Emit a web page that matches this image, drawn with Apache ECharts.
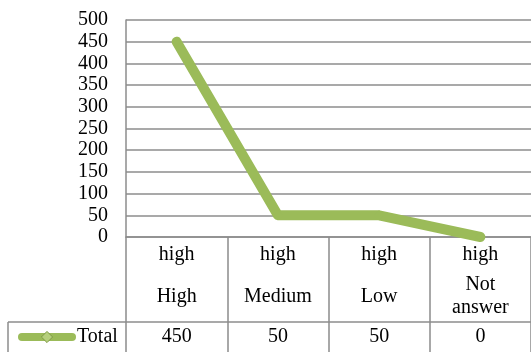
<!DOCTYPE html>
<html>
<head>
<meta charset="utf-8">
<script src="https://cdn.jsdelivr.net/npm/echarts@6/dist/echarts.min.js"></script>
<style>
html,body{margin:0;padding:0;background:#fff;}
#chart{width:531px;height:352px;}
</style>
</head>
<body>
<div id="chart"></div>
<script>
const groupLabels = ['high', 'high', 'high', 'high'];
const categories = ['High', 'Medium', 'Low', 'Not\nanswer'];
const totals = [450, 50, 50, 0];
const seriesName = 'Total';
const yMin = 0, yMax = 500, yStep = 50;

const FONT = "'Liberation Serif', 'Times New Roman', serif";
const FS = 20;
const GRAY = '#8c8c8c';
const GREEN = '#9bbb59';

const chart = echarts.init(document.getElementById('chart'));
chart.setOption({
  animation: false,
  backgroundColor: '#fff',
  grid: { left: 126, top: 20, width: 412, height: 217, containLabel: false },
  legend: {
    left: 18, top: 327, padding: 0,
    itemWidth: 50, itemHeight: 14, itemGap: 9,
    lineStyle: { width: 8, color: GREEN, cap: 'round' },
    itemStyle: { color: '#b5cf7c', borderColor: '#7e9a45', borderWidth: 1 },
    textStyle: { fontFamily: FONT, fontSize: FS, color: '#000' },
    data: [seriesName]
  },
  xAxis: [
    {
      type: 'category',
      data: categories,
      position: 'bottom',
      boundaryGap: true,
      axisLine: { show: true, lineStyle: { color: GRAY, width: 1.5 } },
      axisTick: { show: true, length: 120, lineStyle: { color: GRAY, width: 1.5 } },
      axisLabel: {
        margin: 0,
        interval: 0,
        formatter: function (v, i) {
          const parts = v.split('\n');
          let s = '{a|' + groupLabels[i] + '}\n';
          if (parts.length > 1) {
            s += parts.map(p => '{c|' + p + '}').join('\n');
          } else {
            s += '{b|' + v + '}';
          }
          return s;
        },
        rich: {
          a: { fontFamily: FONT, fontSize: FS, color: '#000', lineHeight: 36 },
          b: { fontFamily: FONT, fontSize: FS, color: '#000', lineHeight: 48 },
          c: { fontFamily: FONT, fontSize: FS, color: '#000', lineHeight: 23 }
        }
      }
    },
    {
      type: 'category',
      data: categories,
      position: 'bottom',
      offset: 85,
      boundaryGap: true,
      axisLine: { show: false },
      axisTick: { show: false },
      axisLabel: {
        margin: 5,
        interval: 0,
        fontFamily: FONT, fontSize: FS, color: '#000',
        formatter: function (v, i) { return String(totals[i]); }
      }
    }
  ],
  yAxis: {
    type: 'value',
    min: yMin, max: yMax, interval: yStep,
    axisLine: { show: true, lineStyle: { color: GRAY, width: 1.5 } },
    axisTick: { show: false },
    axisLabel: { margin: 18, fontFamily: FONT, fontSize: FS, color: '#000' },
    splitLine: { show: true, lineStyle: { color: GRAY, width: 1.5 } }
  },
  graphic: [
    { type: 'line', shape: { x1: 8, y1: 322, x2: 531, y2: 322 }, style: { stroke: GRAY, lineWidth: 1.5 }, z: 10 },
    { type: 'line', shape: { x1: 8, y1: 322, x2: 8, y2: 352 }, style: { stroke: GRAY, lineWidth: 1.5 }, z: 10 }
  ],
  series: [{
    name: seriesName,
    type: 'line',
    data: totals,
    symbol: 'diamond',
    symbolSize: 10,
    showAllSymbol: true,
    itemStyle: { color: GREEN },
    lineStyle: { color: GREEN, width: 10, cap: 'round', join: 'round' },
    clip: false
  }]
});
</script>
</body>
</html>
